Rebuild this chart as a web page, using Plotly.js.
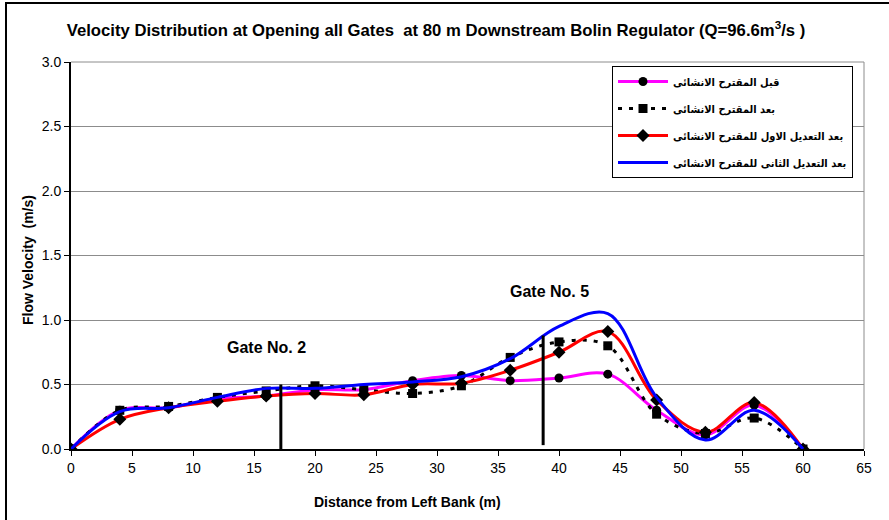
<!DOCTYPE html>
<html>
<head>
<meta charset="utf-8">
<script src="https://cdn.plot.ly/plotly-3.0.1.min.js"></script>
<style>
  html, body { margin: 0; padding: 0; background: #fff; }
  #frame { position: absolute; left: 0; top: 0; width: 889px; height: 520px; }
  #border { position: absolute; left: 5px; top: 2px; width: 884px; height: 518px; border-left: 2px solid #000; border-top: 2px solid #000; pointer-events: none; }
  #chart { position: absolute; left: 0; top: 0; width: 889px; height: 520px; }
</style>
</head>
<body>
<div id="frame">
  <div id="chart"></div>
  <div id="border"></div>
</div>
<script>
// Data
const distance = [0, 4, 8, 12, 16, 20, 24, 28, 32, 36, 40, 44, 48, 52, 56, 60];
const before   = [0, 0.30, 0.32, 0.39, 0.41, 0.46, 0.46, 0.53, 0.57, 0.53, 0.55, 0.58, 0.30, 0.11, 0.34, 0];
const after    = [0, 0.30, 0.33, 0.40, 0.45, 0.49, 0.46, 0.43, 0.49, 0.71, 0.83, 0.80, 0.27, 0.12, 0.24, 0];
const firstMod = [0, 0.23, 0.32, 0.37, 0.41, 0.43, 0.42, 0.50, 0.51, 0.61, 0.75, 0.91, 0.38, 0.13, 0.36, 0];
const secondMod= [0, 0.29, 0.32, 0.40, 0.47, 0.47, 0.50, 0.52, 0.56, 0.70, 0.95, 1.05, 0.40, 0.07, 0.30, 0];
const seriesNames = ['قبل المقترح الانشائى', 'بعد المقترح الانشائى', 'بعد التعديل الاول للمقترح الانشائى', 'بعد التعديل الثانى للمقترح الانشائى'];
const gateNames = ['Gate No. 2', 'Gate No. 5'];
const gateX = [17.2, 38.7];
const gateBottom = [0, 0.03];
const gateTop = [0.5, 0.88];
const gateLabelX = [16, 39.2];
const gateLabelY = [0.79, 1.22];
const xTicks = [0,5,10,15,20,25,30,35,40,45,50,55,60,65];
const yTicks = [0,0.5,1.0,1.5,2.0,2.5,3.0];

const FONT = 'Liberation Sans, Arial, sans-serif';
const W = 889, H = 520, ML = 71, MR = 25, MT = 62, MB = 71;
const PW = W - ML - MR, PH = H - MT - MB;

const traces = [
  { x: distance, y: before, name: seriesNames[0], legendgroup: 'a', mode: 'lines+markers',
    line: {color: '#FF00FF', width: 3, shape: 'spline', smoothing: 1},
    marker: {symbol: 'circle', size: 9, color: '#000'} },
  { x: distance, y: after, name: seriesNames[1], legendgroup: 'b', mode: 'lines+markers',
    line: {color: '#000', width: 3, dash: '4px,7px', shape: 'spline', smoothing: 1},
    marker: {symbol: 'square', size: 9, color: '#000'} },
  { x: distance, y: firstMod, name: seriesNames[2], legendgroup: 'c', mode: 'lines+markers',
    line: {color: '#FF0000', width: 3, shape: 'spline', smoothing: 1},
    marker: {symbol: 'diamond', size: 10, color: '#000'} },
  { x: distance, y: secondMod, name: seriesNames[3], legendgroup: 'd', mode: 'lines',
    line: {color: '#0000FF', width: 3, shape: 'spline', smoothing: 1} }
];
for (let i = 0; i < gateX.length; i++) {
  traces.push({ x: [gateX[i], gateX[i]], y: [gateBottom[i], gateTop[i]], mode: 'lines',
    line: {color: '#000', width: 3}, showlegend: false, hoverinfo: 'skip' });
}

const annotations = gateNames.map((t, i) => ({
  x: gateLabelX[i], y: gateLabelY[i], xref: 'x', yref: 'y', text: '<b>' + t + '</b>',
  showarrow: false, font: {family: FONT, size: 16, color: '#000'}
}));
annotations.push({
  xref: 'paper', yref: 'paper', x: (407 - ML) / PW, y: -(502 - (H - MB)) / PH,
  xanchor: 'center', yanchor: 'middle', showarrow: false,
  text: '<b>Distance from Left Bank (m)</b>', font: {family: FONT, size: 14, color: '#000'}
});
annotations.push({
  xref: 'paper', yref: 'paper', x: -(ML - 28) / PW, y: 1 - (260 - MT) / PH,
  xanchor: 'center', yanchor: 'middle', showarrow: false, textangle: -90,
  text: '<b>Flow Velocity  (m/s)</b>', font: {family: FONT, size: 14, color: '#000'}
});

const layout = {
  width: W, height: H,
  margin: {l: ML, r: MR, t: MT, b: MB},
  paper_bgcolor: 'rgba(0,0,0,0)', plot_bgcolor: '#fff',
  title: {text: '<b>Velocity Distribution at Opening all Gates  at 80 m Downstream Bolin Regulator (Q=96.6m<sup>3</sup>/s )</b>',
    x: 436/W, xref: 'container', xanchor: 'center', y: 1 - 30/H, yref: 'container', yanchor: 'middle',
    font: {family: FONT, size: 16.7, color: '#000'}},
  xaxis: {range: [0, 65], tickvals: xTicks, ticktext: xTicks.map(String), showgrid: false, zeroline: false,
    showline: true, linecolor: '#000', linewidth: 2, ticks: 'outside', ticklen: 5, tickcolor: '#000', tickwidth: 1,
    tickfont: {family: FONT, size: 14, color: '#000'}},
  yaxis: {range: [0, 3], tickvals: yTicks, ticktext: yTicks.map(v => v.toFixed(1)), showgrid: true, gridcolor: '#8c8c8c', gridwidth: 1,
    zeroline: false, showline: true, linecolor: '#000', linewidth: 2, ticks: 'outside', ticklen: 5, tickcolor: '#000', tickwidth: 1,
    tickfont: {family: FONT, size: 14, color: '#000'}},
  shapes: [
    {type: 'line', xref: 'paper', yref: 'paper', x0: 1, x1: 1, y0: 0, y1: 1, line: {color: '#8c8c8c', width: 1}},
    {type: 'line', xref: 'paper', yref: 'paper', x0: 0, x1: 1, y0: 1, y1: 1, line: {color: '#8c8c8c', width: 1}}
  ],
  legend: {x: (853 - ML) / PW, xanchor: 'right', y: 1 - (66 - MT) / PH, yanchor: 'top',
    bgcolor: '#fff', bordercolor: '#000', borderwidth: 1,
    font: {family: 'DejaVu Sans Condensed, DejaVu Sans, sans-serif', size: 11, color: '#000', weight: 'bold'},
    tracegroupgap: 8, itemwidth: 50},
  annotations: annotations,
  showlegend: true
};

Plotly.newPlot('chart', traces, layout, {displayModeBar: false, staticPlot: true});
</script>
</body>
</html>
